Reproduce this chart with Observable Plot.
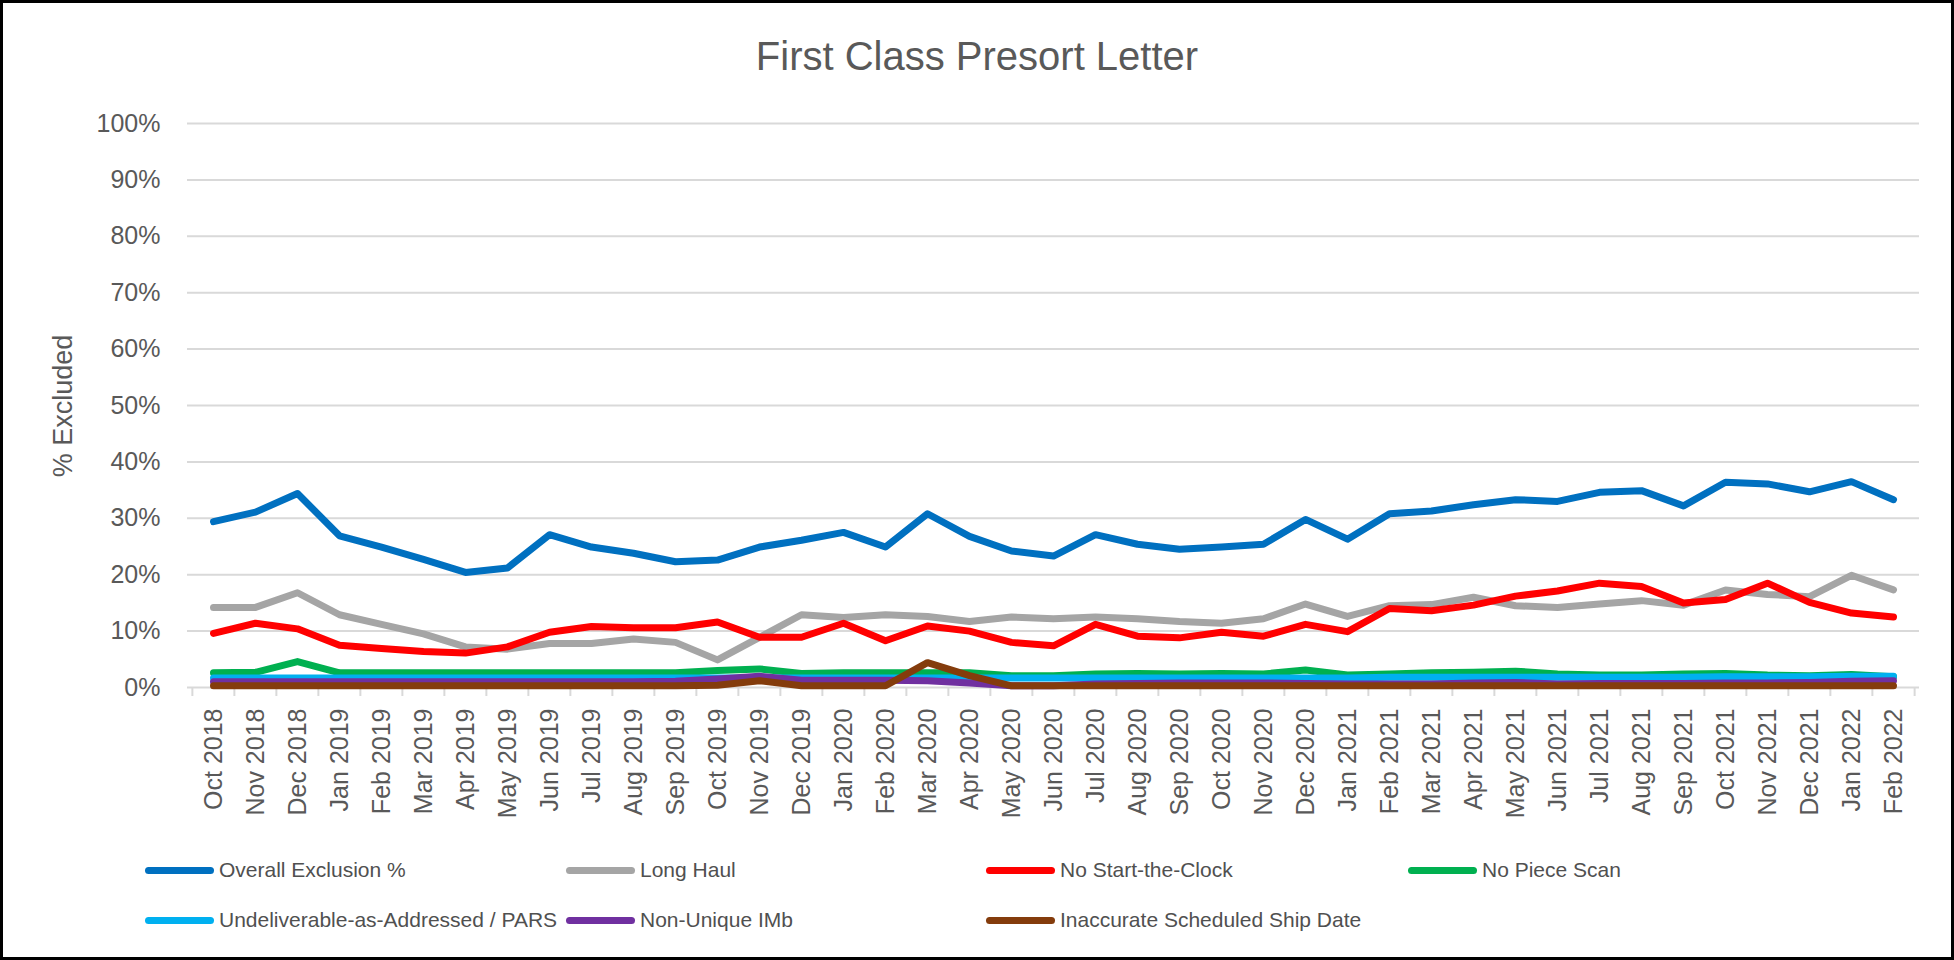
<!DOCTYPE html>
<html><head><meta charset="utf-8">
<script src="https://cdn.jsdelivr.net/npm/d3@7"></script>
<script src="https://cdn.jsdelivr.net/npm/@observablehq/plot@0.6"></script>
<style>
html,body{margin:0;padding:0;background:#fff;}
body{width:1954px;height:960px;position:relative;overflow:hidden;font-family:"Liberation Sans",Arial,sans-serif;}
#frame{position:absolute;left:0;top:0;width:1954px;height:960px;border:3px solid #000;box-sizing:border-box;pointer-events:none;z-index:10;}
#title{position:absolute;left:0;width:1954px;top:30px;text-align:center;font-size:40px;color:#595959;line-height:52px;}
#chart{position:absolute;left:0;top:95px;}
#ylabel{position:absolute;left:63px;top:406px;transform:translate(-50%,-50%) rotate(-90deg);font-size:27px;color:#595959;white-space:nowrap;}
.legend-item{position:absolute;display:flex;align-items:center;font-size:21px;color:#505050;white-space:nowrap;transform:translateY(-50%);}
.sw{display:inline-block;width:69px;height:7px;border-radius:4px;margin-right:5px;}
</style></head>
<body>
<div id="title">First Class Presort Letter</div>
<div id="chart"></div>
<div id="ylabel">% Excluded</div>
<div id="legend"></div>
<div id="frame"></div>
<script>
const months = ["Oct 2018","Nov 2018","Dec 2018","Jan 2019","Feb 2019","Mar 2019","Apr 2019","May 2019","Jun 2019","Jul 2019","Aug 2019","Sep 2019","Oct 2019","Nov 2019","Dec 2019","Jan 2020","Feb 2020","Mar 2020","Apr 2020","May 2020","Jun 2020","Jul 2020","Aug 2020","Sep 2020","Oct 2020","Nov 2020","Dec 2020","Jan 2021","Feb 2021","Mar 2021","Apr 2021","May 2021","Jun 2021","Jul 2021","Aug 2021","Sep 2021","Oct 2021","Nov 2021","Dec 2021","Jan 2022","Feb 2022"];

const seriesNames = ["Overall Exclusion %","Long Haul","No Start-the-Clock","No Piece Scan","Undeliverable-as-Addressed / PARS","Non-Unique IMb","Inaccurate Scheduled Ship Date"];
const seriesColors = ["#0070C0","#A5A5A5","#FF0000","#00B050","#00B0F0","#7030A0","#843C0C"];

const overall = [29.4,31.1,34.4,26.9,24.9,22.7,20.4,21.2,27.1,24.9,23.8,22.3,22.6,24.9,26.1,27.5,24.9,30.8,26.8,24.2,23.3,27.1,25.4,24.5,24.9,25.4,29.8,26.3,30.8,31.3,32.4,33.3,33.0,34.6,34.9,32.2,36.4,36.1,34.7,36.5,33.3];
const longHaul = [14.2,14.2,16.8,12.9,11.2,9.5,7.2,6.8,7.8,7.8,8.6,8.0,4.9,8.9,12.9,12.4,12.9,12.6,11.7,12.5,12.2,12.5,12.2,11.7,11.4,12.2,14.8,12.6,14.5,14.7,16.0,14.5,14.2,14.8,15.4,14.6,17.3,16.5,16.1,19.9,17.3];
const noStartTheClock = [9.6,11.4,10.4,7.5,6.9,6.4,6.1,7.2,9.8,10.8,10.6,10.6,11.6,8.9,8.9,11.4,8.3,10.9,10.0,8.0,7.4,11.2,9.1,8.8,9.8,9.1,11.2,9.9,14.0,13.6,14.6,16.2,17.1,18.5,17.9,15.0,15.6,18.5,15.1,13.2,12.5];
const noPieceScan = [2.6,2.7,4.6,2.6,2.6,2.6,2.6,2.6,2.6,2.6,2.6,2.6,3.0,3.3,2.5,2.6,2.6,2.6,2.6,2.1,2.1,2.4,2.5,2.4,2.5,2.4,3.1,2.2,2.4,2.6,2.7,2.9,2.4,2.2,2.2,2.4,2.5,2.2,2.1,2.3,1.9];
const uaaPars = [1.7,1.7,1.7,1.7,1.7,1.7,1.7,1.7,1.7,1.7,1.7,1.7,1.7,1.7,1.7,1.7,1.7,1.7,1.7,1.7,1.7,1.7,1.7,1.7,1.7,1.7,1.7,1.7,1.8,1.8,1.8,1.8,1.8,1.8,1.8,1.8,1.9,1.9,1.9,2.0,2.0];
const nonUniqueImb = [1.0,1.0,1.0,1.0,1.0,1.0,1.0,1.0,1.0,1.0,1.0,1.1,1.5,2.0,1.3,1.3,1.3,1.2,0.8,0.3,0.3,0.6,0.7,0.8,0.8,0.8,0.7,0.6,0.6,0.6,0.8,0.9,0.6,0.7,0.7,0.7,0.8,0.8,0.9,1.1,1.2];
const inaccurateSsd = [0.3,0.3,0.3,0.3,0.3,0.3,0.3,0.3,0.3,0.3,0.3,0.3,0.4,1.2,0.3,0.3,0.3,4.4,2.1,0.3,0.3,0.3,0.3,0.3,0.3,0.3,0.3,0.3,0.3,0.3,0.3,0.3,0.3,0.3,0.3,0.3,0.3,0.3,0.3,0.3,0.3];

const yTicks = [0,10,20,30,40,50,60,70,80,90,100];

const seriesValues = [overall,longHaul,noStartTheClock,noPieceScan,uaaPars,nonUniqueImb,inaccurateSsd];
const rows = [];
seriesNames.forEach((name, s) => {
  months.forEach((m, i) => rows.push({series: name, month: m, value: seriesValues[s][i]}));
});

const W = 1954, H = 745, ML = 187, MR = 35, MT = 28, MB = 153;
const step = (W - ML - MR) / months.length;

const chart = Plot.plot({
  width: W, height: H,
  marginLeft: ML, marginRight: MR, marginTop: MT, marginBottom: MB,
  style: {fontFamily: "'Liberation Sans', Arial, sans-serif", fontSize: "25px", color: "#595959", background: "white"},
  x: {type: "point", domain: months, padding: 0.5, label: null},
  y: {domain: [0, 100], label: null},
  color: {domain: seriesNames, range: seriesColors},
  marks: [
    Plot.gridY(yTicks, {stroke: "#D9D9D9", strokeOpacity: 1, strokeWidth: 2}),
    Plot.axisY(yTicks, {tickSize: 0, tickPadding: 27, tickFormat: d => d + "%", fontSize: 25, label: null}),
    Plot.axisX(months, {tickSize: 0, tickPadding: 21, tickRotate: -90, fontSize: 25, label: null}),
    Plot.axisX(months, {tickSize: 9, text: null, dx: -step / 2, stroke: "#D9D9D9", strokeWidth: 2, label: null}),
    Plot.axisX([months[months.length - 1]], {tickSize: 9, text: null, dx: step / 2, stroke: "#D9D9D9", strokeWidth: 2, label: null}),
    Plot.line(rows, {x: "month", y: "value", z: "series", stroke: "series", strokeWidth: 7, strokeLinecap: "round", strokeLinejoin: "round"})
  ]
});
document.getElementById("chart").appendChild(chart);

// legend
const legendCols = [145, 566, 986, 1408];
const legendRows = [870, 920];
const legend = document.getElementById("legend");
seriesNames.forEach((name, i) => {
  const item = document.createElement("div");
  item.className = "legend-item";
  item.style.left = legendCols[i % 4] + "px";
  item.style.top = legendRows[Math.floor(i / 4)] + "px";
  const sw = document.createElement("span");
  sw.className = "sw";
  sw.style.background = seriesColors[i];
  item.appendChild(sw);
  item.appendChild(document.createTextNode(name));
  legend.appendChild(item);
});
</script>
</body></html>
